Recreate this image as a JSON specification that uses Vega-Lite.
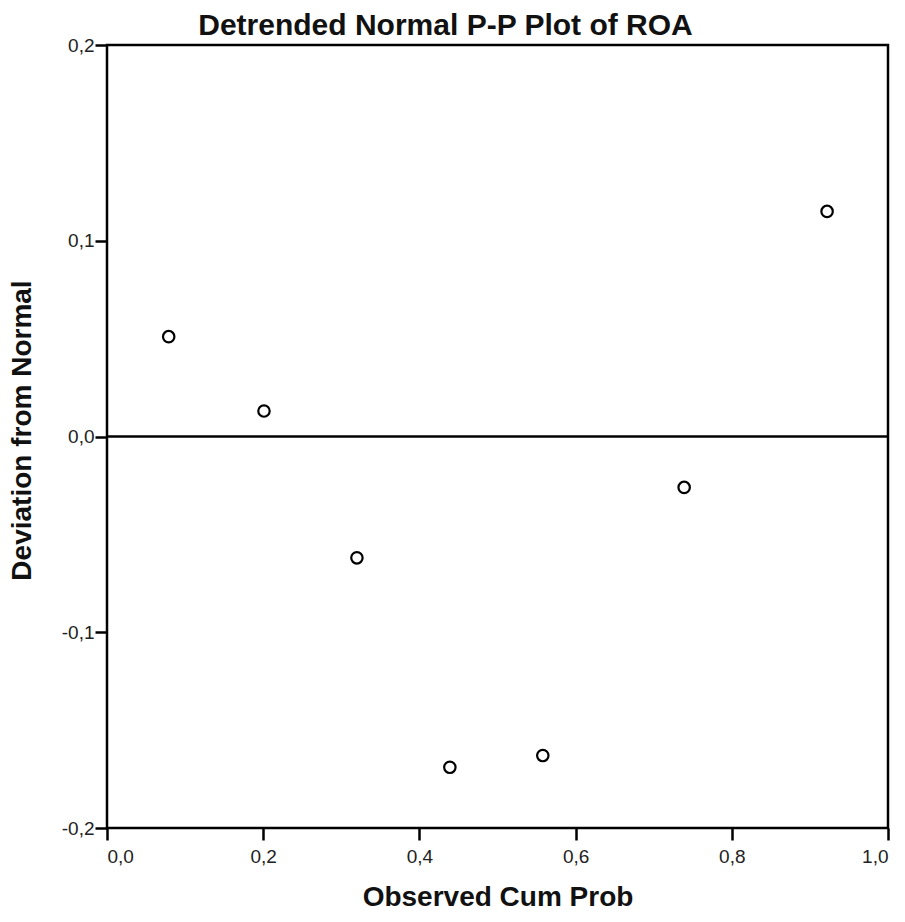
{
  "$schema": "https://vega.github.io/schema/vega-lite/v6.json",
  "autosize": "none",
  "width": 781,
  "height": 783,
  "padding": {"left": 107, "top": 45, "right": 17, "bottom": 94},
  "background": "white",
  "title": {
    "text": "Detrended Normal P-P Plot of ROA",
    "font": "Liberation Sans",
    "fontSize": 30,
    "fontWeight": "bold",
    "color": "#111",
    "anchor": "middle",
    "dx": -52,
    "offset": -5
  },
  "config": {
    "view": {"stroke": "black", "strokeWidth": 2.5},
    "axis": {
      "grid": false,
      "domain": false,
      "tickColor": "black",
      "tickWidth": 2.5,
      "tickSize": 12,
      "labelFont": "Liberation Sans",
      "labelFontSize": 19,
      "labelColor": "#222",
      "titleFont": "Liberation Sans",
      "titleFontSize": 28,
      "titleFontWeight": "bold",
      "titleColor": "#111"
    }
  },
  "data": {
    "values": [
      {"p": 0.079, "dev": 0.051},
      {"p": 0.201, "dev": 0.013},
      {"p": 0.320, "dev": -0.062},
      {"p": 0.439, "dev": -0.169},
      {"p": 0.558, "dev": -0.163},
      {"p": 0.739, "dev": -0.026},
      {"p": 0.922, "dev": 0.115}
    ]
  },
  "layer": [
    {
      "mark": {"type": "rule", "color": "black", "strokeWidth": 2.5},
      "data": {"values": [{"z": 0}]},
      "encoding": {
        "y": {"field": "z", "type": "quantitative", "scale": {"domain": [-0.2, 0.2]}}
      }
    },
    {
      "mark": {"type": "point", "shape": "circle", "size": 130, "filled": false, "stroke": "black", "strokeWidth": 2.2, "fill": "white", "opacity": 1},
      "encoding": {
        "x": {
          "field": "p", "type": "quantitative",
          "scale": {"domain": [0, 1], "nice": false, "zero": false},
          "axis": {
            "title": "Observed Cum Prob",
            "values": [0, 0.2, 0.4, 0.6, 0.8, 1.0],
            "labelExpr": "replace(replace(format(datum.value, '.1f'), '.', ','), '\u2212', '-')",
            "labelPadding": 7,
            "titlePadding": 17
          }
        },
        "y": {
          "field": "dev", "type": "quantitative",
          "scale": {"domain": [-0.2, 0.2], "nice": false, "zero": false},
          "axis": {
            "title": "Deviation from Normal",
            "values": [-0.2, -0.1, 0, 0.1, 0.2],
            "labelExpr": "replace(replace(format(datum.value, '.1f'), '.', ','), '\u2212', '-')",
            "labelPadding": 1,
            "titleX": -71,
            "titleY": 385
          }
        }
      }
    }
  ]
}
